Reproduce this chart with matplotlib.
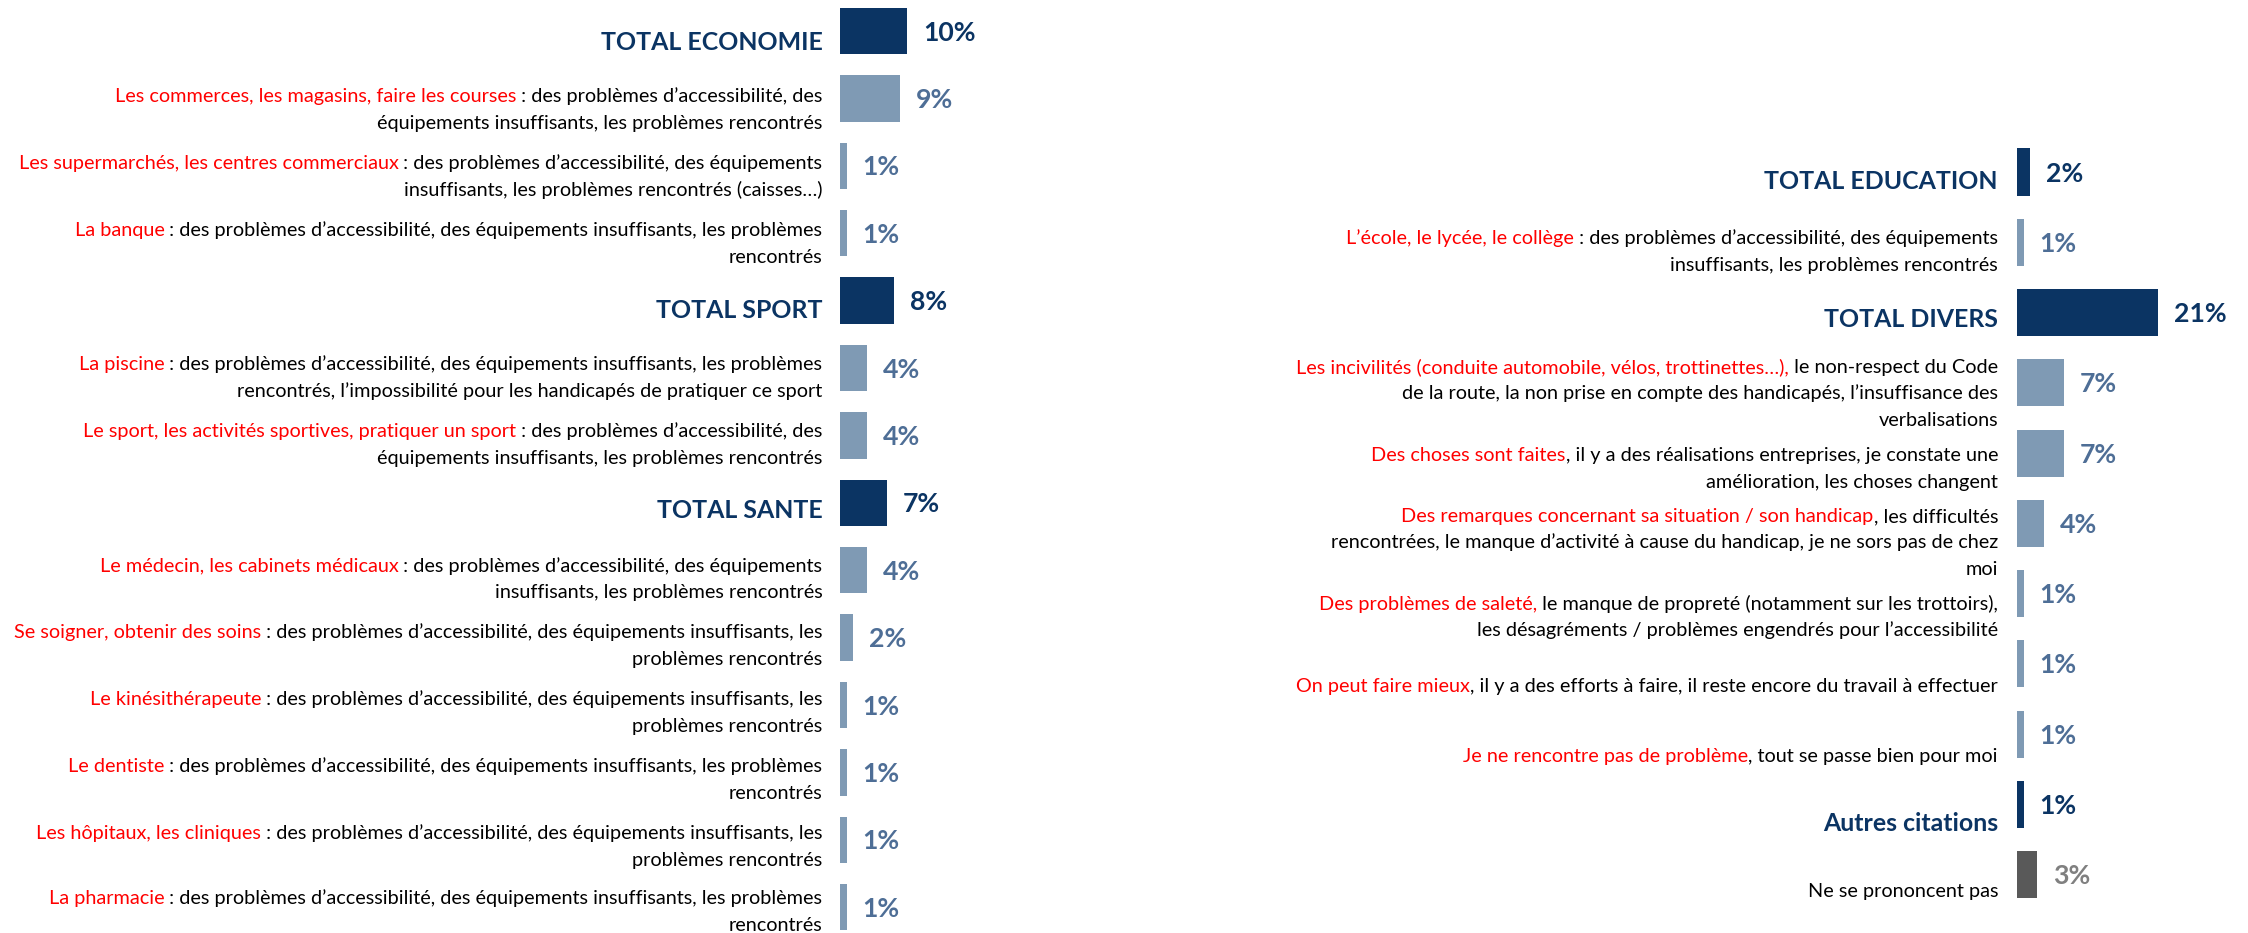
import matplotlib
matplotlib.use("Agg")
import matplotlib.pyplot as plt
from matplotlib.transforms import offset_copy
from matplotlib.font_manager import FontProperties

# ---------------- data ----------------
left_kinds = ["total", "sub", "sub", "sub", "total", "sub", "sub", "total",
              "sub", "sub", "sub", "sub", "sub", "sub"]
left_red = [
    "TOTAL ECONOMIE",
    "Les commerces, les magasins, faire les courses",
    "Les supermarchés, les centres commerciaux",
    "La banque",
    "TOTAL SPORT",
    "La piscine",
    "Le sport, les activités sportives, pratiquer un sport",
    "TOTAL SANTE",
    "Le médecin, les cabinets médicaux",
    "Se soigner, obtenir des soins",
    "Le kinésithérapeute",
    "Le dentiste",
    "Les hôpitaux, les cliniques",
    "La pharmacie",
]
left_black = [
    "",
    " : des problèmes d’accessibilité, des\néquipements insuffisants, les problèmes rencontrés",
    " : des problèmes d’accessibilité, des équipements\ninsuffisants, les problèmes rencontrés (caisses…)",
    " : des problèmes d’accessibilité, des équipements insuffisants, les problèmes\nrencontrés",
    "",
    " : des problèmes d’accessibilité, des équipements insuffisants, les problèmes\nrencontrés, l’impossibilité pour les handicapés de pratiquer ce sport",
    " : des problèmes d’accessibilité, des\néquipements insuffisants, les problèmes rencontrés",
    "",
    " : des problèmes d’accessibilité, des équipements\ninsuffisants, les problèmes rencontrés",
    " : des problèmes d’accessibilité, des équipements insuffisants, les\nproblèmes rencontrés",
    " : des problèmes d’accessibilité, des équipements insuffisants, les\nproblèmes rencontrés",
    " : des problèmes d’accessibilité, des équipements insuffisants, les problèmes\nrencontrés",
    " : des problèmes d’accessibilité, des équipements insuffisants, les\nproblèmes rencontrés",
    " : des problèmes d’accessibilité, des équipements insuffisants, les problèmes\nrencontrés",
]
left_values = [10, 9, 1, 1, 8, 4, 4, 7, 4, 2, 1, 1, 1, 1]

right_kinds = ["total", "sub", "total", "sub", "sub", "sub", "sub", "sub", "sub",
               "autre", "nsp"]
right_red = [
    "TOTAL EDUCATION",
    "L’école, le lycée, le collège",
    "TOTAL DIVERS",
    "Les incivilités (conduite automobile, vélos, trottinettes…),",
    "Des choses sont faites",
    "Des remarques concernant sa situation / son handicap",
    "Des problèmes de saleté,",
    "On peut faire mieux",
    "Je ne rencontre pas de problème",
    "Autres citations",
    "",
]
right_black = [
    "",
    " : des problèmes d’accessibilité, des équipements\ninsuffisants, les problèmes rencontrés",
    "",
    " le non-respect du Code\nde la route, la non prise en compte des handicapés, l’insuffisance des\nverbalisations",
    ", il y a des réalisations entreprises, je constate une\namélioration, les choses changent",
    ", les difficultés\nrencontrées, le manque d’activité à cause du handicap, je ne sors pas de chez\nmoi",
    " le manque de propreté (notamment sur les trottoirs),\nles désagréments / problèmes engendrés pour l’accessibilité",
    ", il y a des efforts à faire, il reste encore du travail à effectuer",
    ", tout se passe bien pour moi",
    "",
    "Ne se prononcent pas",
]
right_values = [2, 1, 21, 7, 7, 4, 1, 1, 1, 1, 3]

# ---------------- layout (label vertical nudges, px below bar centre) ----------------
left_label_nudge = [10, 10, 9.5, 9, 8.5, 8.5, 8, 6.5, 7.5, 7, 6.5, 6, 5.5, 3]
right_label_nudge = [8, 8, 5.5, 9.5, 14.5, 18, 22.5, 21, 20.5, 18, 15.5]

# ---------------- style ----------------
NAVY = "#0b3463"
SUB = "#7f9ab4"
SUB_TXT = "#4e6e96"
RED = "#ff0000"
NSP_BAR = "#595959"
NSP_TXT = "#808080"
FONT = "Lato"

W, H, DPI = 2248, 933, 100
PX_PER_PCT = 6.7
LINE_SP = 26.5

fig = plt.figure(figsize=(W / DPI, H / DPI), dpi=DPI)
fig.patch.set_facecolor("white")
renderer = fig.canvas.get_renderer()


def fit_size(sample, target_px, weight="normal"):
    p = FontProperties(family=FONT, size=20, weight=weight)
    w, _, _ = renderer.get_text_width_height_descent(sample, p, ismath=False)
    return 20 * target_px / w


# font sizes chosen so sample strings take the widths they take in the picture
SIZE_TXT = fit_size("équipements insuffisants, les problèmes rencontrés", 448)
SIZE_BOLD = fit_size("TOTAL ECONOMIE", 222, "bold")
SIZE_VAL = fit_size("10%", 53, "bold")
CAP_RATIO = 0.717 * DPI / 72.0
CAP_TXT = SIZE_TXT * CAP_RATIO
CAP_BOLD = SIZE_BOLD * CAP_RATIO
CAP_VAL = SIZE_VAL * CAP_RATIO


def make_axes(x0_px, x1_px, first_px, spacing_px):
    ax = fig.add_axes([x0_px / W, 0, (x1_px - x0_px) / W, 1])
    ax.set_xlim(0, (x1_px - x0_px) / PX_PER_PCT)
    ax.set_ylim((H - first_px) / spacing_px, -first_px / spacing_px)
    ax.axis("off")
    return ax


def draw_panel(ax, kinds, reds, blacks, values, nudges, bar_h, gap_px):
    rows = list(range(len(values)))
    colors = [NAVY if k in ("total", "autre") else (NSP_BAR if k == "nsp" else SUB)
              for k in kinds]
    ax.barh(rows, values, height=bar_h, color=colors, edgecolor="none")

    prop = FontProperties(family=FONT, size=SIZE_TXT)
    for i, (k, red, black, v, d) in enumerate(zip(kinds, reds, blacks, values, nudges)):
        # value label
        vcol = NAVY if k in ("total", "autre") else (NSP_TXT if k == "nsp" else SUB_TXT)
        tr = offset_copy(ax.transData, fig=fig, x=16, y=-CAP_VAL / 2, units="dots")
        ax.text(v, i, f"{v}%", transform=tr, ha="left", va="baseline",
                fontsize=SIZE_VAL, fontweight="bold", color=vcol, family=FONT,
                clip_on=False)

        # category label
        if k in ("total", "autre"):
            tr = offset_copy(ax.transData, fig=fig, x=-gap_px,
                             y=-(d + CAP_BOLD / 2), units="dots")
            ax.text(0, i, red, transform=tr, ha="right", va="baseline",
                    fontsize=SIZE_BOLD, fontweight="bold", color=NAVY,
                    family=FONT, clip_on=False)
            continue

        lines = black.split("\n")
        n = len(lines)
        for j, line in enumerate(lines):
            yoff = d + (j - (n - 1) / 2) * LINE_SP + CAP_TXT / 2
            tr = offset_copy(ax.transData, fig=fig, x=-gap_px, y=-yoff, units="dots")
            ax.text(0, i, line, transform=tr, ha="right", va="baseline",
                    fontproperties=prop, color="black", clip_on=False)
            if j == 0 and red:
                full = red + line
                wfull, _, _ = renderer.get_text_width_height_descent(full, prop, ismath=False)
                tr2 = offset_copy(ax.transData, fig=fig, x=-gap_px - wfull,
                                  y=-yoff, units="dots")
                ax.text(0, i, red, transform=tr2, ha="left", va="baseline",
                        fontproperties=prop, color=RED, clip_on=False)


axL = make_axes(840, 1120, 31.0, 67.4)
draw_panel(axL, left_kinds, left_red, left_black, left_values, left_label_nudge, 0.69, 17.5)

axR = make_axes(2017, 2248, 172.0, 70.26)
draw_panel(axR, right_kinds, right_red, right_black, right_values, right_label_nudge, 0.67, 19)

fig.savefig("out.png", dpi=DPI, facecolor="white")
